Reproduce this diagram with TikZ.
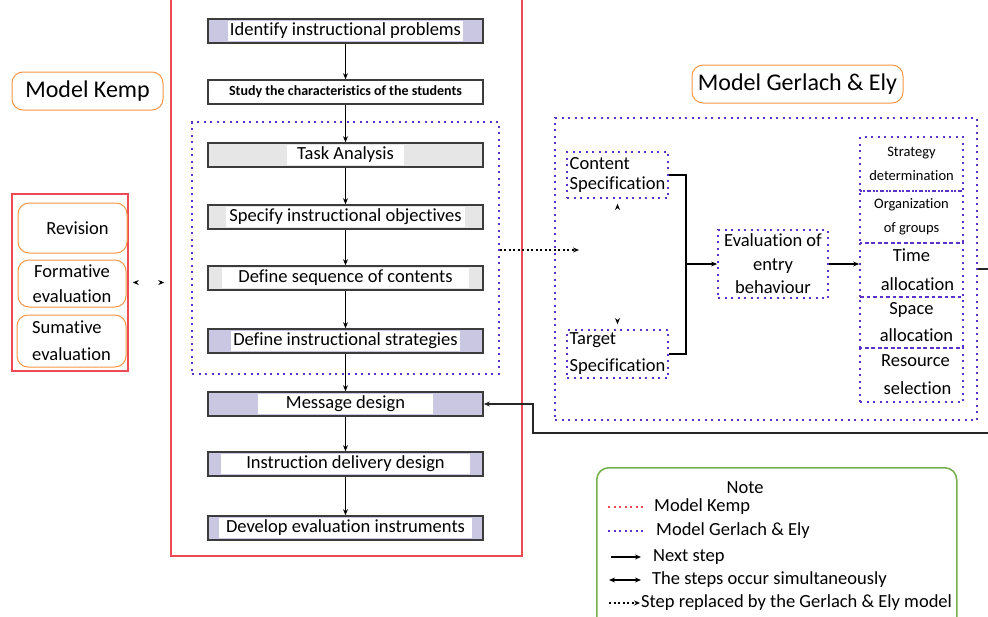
\documentclass[tikz,border=0pt]{standalone}
\usepackage{fontspec}
\setmainfont{Carlito}[Ligatures=NoCommon]
\usetikzlibrary{arrows.meta,positioning,fit,calc}

\definecolor{kempred}{HTML}{EE4A55}
\definecolor{lblorange}{HTML}{F79646}
\definecolor{gelyblue}{HTML}{5A32C8}
\definecolor{notegreen}{HTML}{72AE4A}
\definecolor{lavender}{HTML}{C9C7E1}
\definecolor{lgray}{HTML}{E6E6E6}
\definecolor{boxedge}{HTML}{3C3C3C}

% white patch behind the text of a step
\newcommand{\wt}[2][0pt]{{\setlength{\fboxsep}{2pt}\colorbox{white}{\hspace{#1}#2\hspace{#1}}}}

\begin{document}
\begin{tikzpicture}[x=1pt,y=-1pt,>={Stealth[length=6pt,width=5pt]},
every node/.style={font=\fontsize{18.5}{21}\selectfont},
kbox/.style={draw=boxedge,line width=1.6,fill=#1,minimum width=275,minimum height=24,inner sep=0pt},
kbox/.default=lavender,
gdot/.style={draw=gelyblue,line width=1.8,dash pattern=on 2pt off 4.5pt},
rdot/.style={draw=kempred,line width=1.8,dash pattern=on 2pt off 4.5pt},
olabel/.style={draw=lblorange,line width=1,rounded corners=11,fill=white,inner sep=0pt},
nextstep/.style={->,line width=1.3},
simul/.style={{Stealth[length=6pt,width=5pt,black]}-{Stealth[length=6pt,width=5pt,black]},draw=white,line width=1.3},
replaced/.style={->,line width=1.4,dash pattern=on 2pt off 2.5pt}]

\useasboundingbox (0,0) rectangle (988,616);
\clip (0,0) rectangle (988,616);

%Kemp
\node[draw=kempred,line width=1.5,minimum width=351,minimum height=576,inner sep=0pt] (kemp) at (346.5,268) {};

\node[kbox] (k1) at (345.5,31) {\wt{Identify instructional problems}};
\node[kbox=white, font=\bfseries\fontsize{14}{16}\selectfont] (k2) at (345.5,92) {Study the characteristics of the students};
\node[kbox=lgray] (k3) at (345.5,155) {\wt[8pt]{Task Analysis}};
\node[kbox=lgray] (k4) at (345.5,217) {\wt[1pt]{Specify instructional objectives}};
\node[kbox=lgray] (k5) at (345.5,278) {\wt[14pt]{Define sequence of contents}};
\node[kbox] (k6) at (345.5,341) {\wt{Define instructional strategies}};
\node[kbox] (k7) at (345.5,404) {\wt[26pt]{Message design}};
\node[kbox] (k8) at (345.5,464) {\wt[23pt]{Instruction delivery design}};
\node[kbox] (k9) at (345.5,528) {\wt[5pt]{Develop evaluation instruments}};

\path[nextstep] (k1) edge (k2);
\path[nextstep] (k2) edge (k3);
\path[nextstep] (k3) edge (k4);
\path[nextstep] (k4) edge (k5);
\path[nextstep] (k5) edge (k6);
\path[nextstep] (k6) edge (k7);
\path[nextstep] (k7) edge (k8);
\path[nextstep] (k8) edge (k9);

\node[gdot, fit=(k3)(k6), inner xsep=15, inner ysep=20] (kdot) {};

\node[olabel, minimum width=151, minimum height=38, font=\fontsize{24}{28}\selectfont] (kemplbl) at (87.5,91) {Model Kemp};

%evaluation
\node[draw=kempred,line width=1.5,minimum width=116,minimum height=177] (evgrp) at (70,282.5) {};
\node[olabel, minimum width=109, minimum height=50] (rev) at (72.5,228) {\hspace{10pt}Revision};
\node[olabel, minimum width=108, minimum height=47, align=center, font=\fontsize{18.5}{25}\selectfont] (fe) at (72,283.5) {Formative\\evaluation};
\node[olabel, minimum width=109, minimum height=52, align=left, font=\fontsize{18.5}{27}\selectfont] (se) at (71.5,341) {Sumative\\evaluation};

\draw[simul, shorten <=4, shorten >=6] (evgrp.east) -- (evgrp.east -| kemp.west);

%Gerlach & Ely
\node[olabel, minimum width=211, minimum height=38, font=\fontsize{24}{28}\selectfont] (gelylbl) at (797.5,84) {Model Gerlach \& Ely};
\node[gdot, minimum width=422, minimum height=302] (gely) at (766,269) {};

\node[gdot, minimum width=101, minimum height=46, align=left, inner sep=1pt, font=\fontsize{18.5}{20}\selectfont] (cs) at (617.5,175) {Content\\Specification};
\node[gdot, minimum width=101, minimum height=48, align=left, inner sep=1pt, font=\fontsize{18.5}{27}\selectfont] (ts) at (617.5,354) {Target\\Specification};
\node[gdot, minimum width=110, minimum height=68, align=center, inner sep=1pt, font=\fontsize{18.5}{23.5}\selectfont] (ev) at (773,264) {Evaluation of\\entry\\behaviour};

\node[gdot, minimum width=103, minimum height=54, align=center, inner sep=1pt, font=\fontsize{14.5}{24}\selectfont] (sd) at (911.5,164) {Strategy\\determination};
\node[gdot, minimum width=103, minimum height=52, align=center, inner sep=1pt, font=\fontsize{14.5}{24}\selectfont] (og) at (911.5,217) {Organization\\of groups};
\node[gdot, minimum width=103, minimum height=54, align=center, inner sep=1pt, font=\fontsize{18.5}{29}\selectfont] (tm) at (911.5,270) {Time\\\hspace{12pt}allocation};
\node[gdot, minimum width=103, minimum height=51, align=center, inner sep=1pt, font=\fontsize{18.5}{27}\selectfont] (sp) at (911.5,322.5) {Space\\\hspace{10pt}allocation};
\node[gdot, minimum width=103, minimum height=54, align=center, inner sep=1pt, font=\fontsize{18.5}{28}\selectfont] (rs) at (911.5,375) {\hspace{8pt}Resource\\\hspace{12pt}selection};

\draw[simul, shorten <=5, shorten >=5] (ts.north) -- (cs.south);

\coordinate (jn) at (685,264);
\draw[line width=1.6] (cs.east) -- ++(17,0) |- (ts.east);
\draw[nextstep] (jn) -- (ev.west);
\draw[nextstep] (ev.east) -- (ev.east -| tm.west);

%replaced step
\coordinate (gin) at (579,250);
\draw[replaced] (kdot.east |- gin) -- (gin);

%back to message design
\coordinate (ret) at (533,433);
\draw[nextstep, line width=1.8, draw=black!85] (gely.east) -- ++(30,0) |- (ret) |- (k7.east);

%Note
\node[draw=notegreen, line width=1.5, rounded corners=12, minimum width=360, minimum height=175, anchor=north west] (note) at (596,467) {};
\node (nt) at (745,488) {Note};
\node[anchor=west, inner sep=0pt] (lk) at (654,507) {Model Kemp};
\node[anchor=west, inner sep=0pt] (lg) at (656,531) {Model Gerlach \& Ely};
\node[anchor=west, inner sep=0pt] (ln) at (653,557) {Next step};
\node[anchor=west, inner sep=0pt] (ls) at (652,580) {The steps occur simultaneously};
\node[anchor=west, inner sep=0pt] (lr) at (641,603) {Step replaced by the Gerlach \& Ely model};

\draw[rdot, line width=1.4, dash pattern=on 2pt off 3.5pt] ($(lk.west)+(-46,0)$) -- ++(36,0);
\draw[gdot, line width=1.4, dash pattern=on 2pt off 3.5pt] ($(lg.west)+(-48,0)$) -- ++(36,0);
\draw[nextstep] ($(ln.west)+(-42,0)$) -- ++(30,0);
\draw[{Stealth[length=6pt,width=5pt]}-{Stealth[length=6pt,width=5pt]}, line width=1.3] ($(ls.west)+(-43,0)$) -- ++(32,0);
\draw[replaced] ($(lr.west)+(-32,0)$) -- ++(31,0);

\end{tikzpicture}
\end{document}
